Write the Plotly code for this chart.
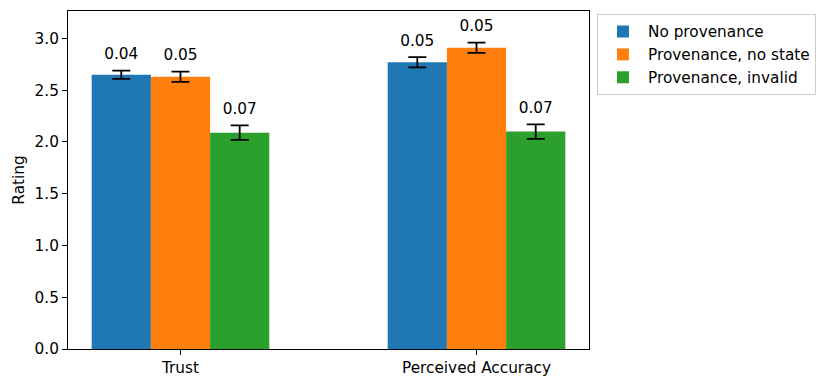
import plotly.graph_objects as go

categories = ["Trust", "Perceived Accuracy"]
series = ["No provenance", "Provenance, no state", "Provenance, invalid"]
colors = ["#1f77b4", "#ff7f0e", "#2ca02c"]
values = [
    [2.65, 2.77],  # No provenance
    [2.63, 2.91],  # Provenance, no state
    [2.09, 2.10],  # Provenance, invalid
]
errors = [
    [0.04, 0.05],
    [0.05, 0.05],
    [0.07, 0.07],
]

width = 0.2
offsets = [-width, 0, width]
xpos = list(range(len(categories)))
fs = 15.3

fig = go.Figure()
for i, name in enumerate(series):
    xs = [x + offsets[i] for x in xpos]
    fig.add_trace(go.Bar(
        x=xs, y=values[i], width=width, name=name,
        marker=dict(color=colors[i], line=dict(width=0)),
        error_y=dict(type="data", array=errors[i], color="black",
                     thickness=1.8, width=9),
    ))
    # value labels above the error bars
    fig.add_trace(go.Scatter(
        x=xs, y=[v + e for v, e in zip(values[i], errors[i])],
        mode="markers+text", text=["%.2f" % e for e in errors[i]],
        marker=dict(size=10, opacity=0),
        textposition="top center", textfont=dict(size=fs, color="black"),
        showlegend=False, hoverinfo="skip",
    ))

axis_common = dict(showline=True, linecolor="black", linewidth=1, mirror=True,
                   ticks="outside", ticklen=5, tickcolor="black", showgrid=False,
                   zeroline=False, tickfont=dict(size=fs, color="black"))

# page body has an 8px margin, so the plot box is shifted by that
fig.update_layout(
    width=830, height=387,
    margin=dict(l=60, r=249, t=3, b=46),
    plot_bgcolor="white", paper_bgcolor="white",
    font=dict(family="DejaVu Sans", size=fs, color="black"),
    showlegend=True,
    legend=dict(x=1.0153, y=0.991, xanchor="left", yanchor="top",
                bordercolor="#cccccc", borderwidth=1, font=dict(size=fs),
                itemwidth=40),
    xaxis=dict(range=[-0.38, 1.38], tickvals=xpos, ticktext=categories, **axis_common),
    yaxis=dict(range=[0, 3.265], tickvals=[0, 0.5, 1, 1.5, 2, 2.5, 3],
               tickformat=".1f", title=dict(text="Rating", font=dict(size=fs), standoff=6),
               **axis_common),
)

fig.write_html("out.html")
